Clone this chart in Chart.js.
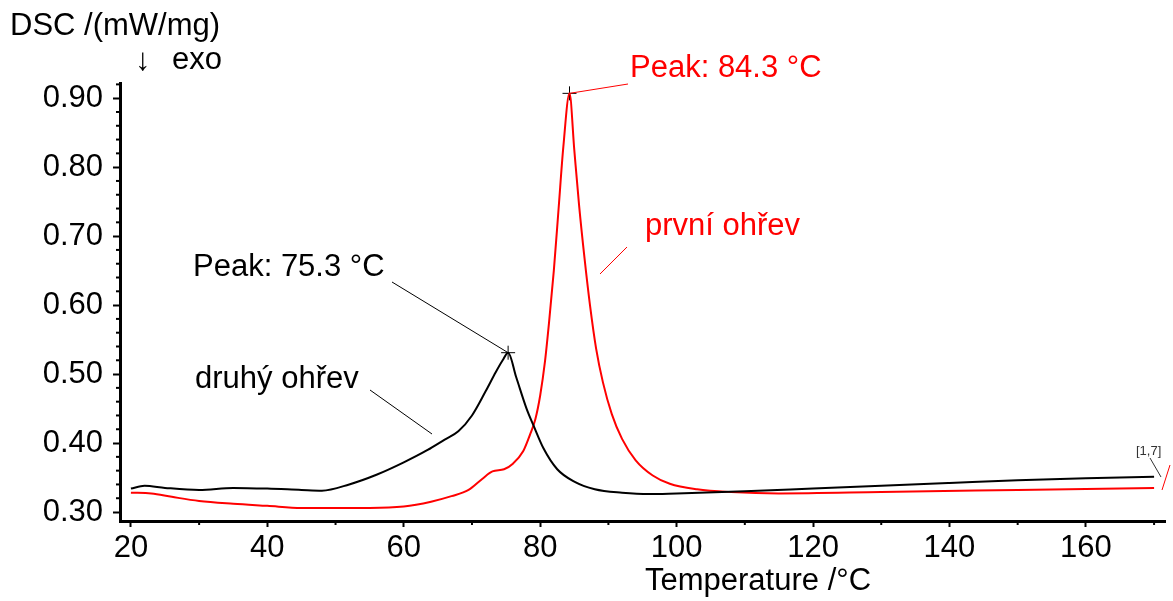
<!DOCTYPE html>
<html>
<head>
<meta charset="utf-8">
<script src="https://cdn.jsdelivr.net/npm/chart.js@4.4.1/dist/chart.umd.min.js"></script>
<style>
html, body { margin: 0; padding: 0; background: #fff; }
canvas { display: block; }
</style>
</head>
<body>
<canvas id="dscChart" width="1173" height="601"></canvas>
<script>
// druhy ohrev (black curve)
var tempDruhy = [20, 22, 25, 30, 35, 40, 45, 48, 52, 56, 60, 63.5, 66, 68, 70, 72, 73.5, 74.5, 75.3, 76.5, 78, 79, 80.5, 82.5, 85, 88, 92, 96, 100, 110, 120, 130, 140, 150, 160, 170];
var dscDruhy = [0.334, 0.338, 0.335, 0.332, 0.335, 0.334, 0.332, 0.331, 0.340, 0.354, 0.372, 0.390, 0.405, 0.417, 0.440, 0.475, 0.503, 0.520, 0.531, 0.495, 0.450, 0.426, 0.392, 0.362, 0.344, 0.333, 0.328, 0.326, 0.327, 0.330, 0.334, 0.338, 0.342, 0.346, 0.349, 0.351];

// prvni ohrev (red curve)
var tempPrvni = [20, 23, 26, 30, 35, 40, 45, 50, 55, 60, 64, 67, 69.5, 71.5, 73, 74.7, 76, 77.5, 78.5, 79.3, 80, 80.7, 81.3, 82, 82.7, 83.4, 84.3, 85, 85.7, 86.5, 87.3, 88.2, 89.2, 90.5, 92, 94, 96.5, 99, 103, 108, 115, 130, 150, 170];
var dscPrvni = [0.328, 0.327, 0.322, 0.316, 0.312, 0.309, 0.306, 0.306, 0.306, 0.308, 0.315, 0.323, 0.332, 0.348, 0.359, 0.362, 0.370, 0.388, 0.412, 0.435, 0.469, 0.518, 0.575, 0.650, 0.740, 0.830, 0.907, 0.825, 0.745, 0.668, 0.600, 0.537, 0.488, 0.442, 0.406, 0.375, 0.353, 0.341, 0.333, 0.329, 0.327, 0.329, 0.332, 0.335];

var peakTemps = [75.3, 84.3];
var peakValues = [0.531, 0.907];

var xTickLabels = [20, 40, 60, 80, 100, 120, 140, 160];
var yTickLabels = [0.30, 0.40, 0.50, 0.60, 0.70, 0.80, 0.90];

var fontFamily = '"Liberation Sans", Arial, sans-serif';

function toPoints(xs, ys) {
    var pts = [];
    for (var i = 0; i < xs.length; i++) {
        pts.push({ x: xs[i], y: ys[i] });
    }
    return pts;
}

function line(ctx, x1, y1, x2, y2) {
    ctx.beginPath();
    ctx.moveTo(x1, y1);
    ctx.lineTo(x2, y2);
    ctx.stroke();
}

var extras = {
    id: 'extras',
    afterDraw: function(chart) {
        var ctx = chart.ctx;
        var xs = chart.scales.x;
        var ys = chart.scales.y;
        var area = chart.chartArea;
        ctx.save();

        // minor ticks
        ctx.strokeStyle = '#000';
        ctx.lineWidth = 2;
        for (var t = 30; t <= 170; t += 20) {
            var px = xs.getPixelForValue(t);
            line(ctx, px, area.bottom, px, area.bottom + 4);
        }
        for (var i = 0; i <= 31; i++) {
            if (i % 5 === 0) continue;
            var py = ys.getPixelForValue(0.30 + i * 0.02);
            line(ctx, area.left - 4, py, area.left, py);
        }

        // titles
        ctx.fillStyle = '#000';
        ctx.font = '31px ' + fontFamily;
        ctx.textBaseline = 'alphabetic';
        ctx.textAlign = 'left';
        ctx.fillText('DSC /(mW/mg)', 10, 35);
        ctx.fillText('\u2193', 135, 70);
        ctx.fillText('exo', 172, 69);
        ctx.fillText('Temperature /\u00B0C', 645, 590);

        // black annotations
        var p1x = xs.getPixelForValue(peakTemps[0]);
        var p1y = ys.getPixelForValue(peakValues[0]);
        ctx.fillText('Peak: 75.3 \u00B0C', 193, 276);
        ctx.fillText('druh\u00FD oh\u0159ev', 195, 388);
        ctx.lineWidth = 1;
        line(ctx, 392, 282, p1x, p1y);
        line(ctx, 370, 390, 432, 434);

        // red annotations
        var p2x = xs.getPixelForValue(peakTemps[1]);
        var p2y = ys.getPixelForValue(peakValues[1]);
        ctx.fillStyle = '#ff0000';
        ctx.strokeStyle = '#ff0000';
        ctx.fillText('Peak: 84.3 \u00B0C', 630, 77);
        ctx.fillText('prvn\u00ED oh\u0159ev', 645, 235);
        line(ctx, 628, 84, p2x, p2y);
        line(ctx, 627, 247, 600, 274);
        line(ctx, 1162, 490, 1170, 465);

        // segment marker
        ctx.fillStyle = '#333';
        ctx.strokeStyle = '#333';
        ctx.font = '13px ' + fontFamily;
        ctx.fillText('[1,7]', 1136, 455);
        line(ctx, 1150, 458, 1161, 477);

        ctx.restore();
    }
};

new Chart(document.getElementById('dscChart'), {
    type: 'line',
    data: {
        datasets: [{
            label: 'druhý ohřev',
            data: toPoints(tempDruhy, dscDruhy),
            borderColor: '#000',
            borderWidth: 2,
            pointRadius: 0,
            cubicInterpolationMode: 'monotone',
            fill: false
        }, {
            label: 'první ohřev',
            data: toPoints(tempPrvni, dscPrvni),
            borderColor: '#ff0000',
            borderWidth: 2,
            pointRadius: 0,
            cubicInterpolationMode: 'monotone',
            fill: false
        }, {
            label: 'peaks',
            data: toPoints(peakTemps, peakValues),
            showLine: false,
            pointStyle: 'cross',
            pointRadius: 7,
            pointBorderColor: '#000',
            pointBorderWidth: 1,
            clip: false
        }]
    },
    options: {
        responsive: false,
        animation: false,
        devicePixelRatio: 1,
        layout: { padding: { top: 83, right: 0, left: 0, bottom: 0 } },
        plugins: {
            legend: { display: false },
            tooltip: { enabled: false }
        },
        scales: {
            x: {
                type: 'linear',
                min: 18.4,
                max: 171.6,
                afterFit: function(s) { s.height = 80; },
                afterBuildTicks: function(s) {
                    s.ticks = xTickLabels.map(function(v) { return { value: v }; });
                },
                grid: { drawOnChartArea: false, drawTicks: true, tickLength: 6, tickWidth: 2, tickColor: '#000' },
                border: { display: true, color: '#000', width: 3 },
                ticks: {
                    color: '#000',
                    font: { family: fontFamily, size: 31 },
                    padding: 3,
                    maxRotation: 0,
                    autoSkip: false
                }
            },
            y: {
                type: 'linear',
                min: 0.287,
                max: 0.922,
                afterFit: function(s) { s.width = 120; },
                afterBuildTicks: function(s) {
                    s.ticks = yTickLabels.map(function(v) { return { value: v }; });
                },
                grid: { drawOnChartArea: false, drawTicks: true, tickLength: 7, tickWidth: 2, tickColor: '#000' },
                border: { display: true, color: '#000', width: 3 },
                ticks: {
                    color: '#000',
                    font: { family: fontFamily, size: 31 },
                    padding: 10,
                    autoSkip: false,
                    callback: function(v) { return Number(v).toFixed(2); }
                }
            }
        }
    },
    plugins: [extras]
});
</script>
</body>
</html>
